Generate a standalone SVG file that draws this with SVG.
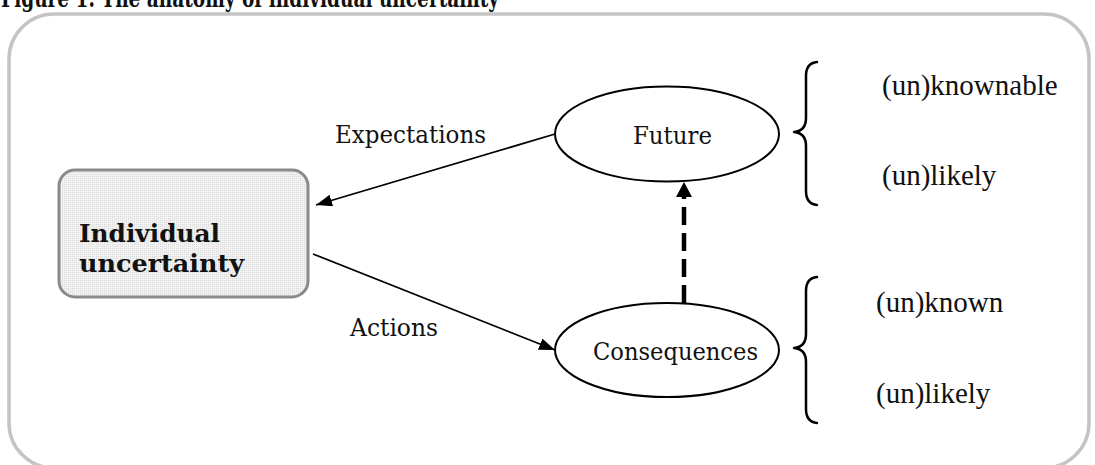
<svg xmlns="http://www.w3.org/2000/svg" width="1095" height="465" viewBox="0 0 1095 465">
<style>
.serif{font-family:"DejaVu Serif","Liberation Serif",serif;fill:#111}
.times{font-family:"Liberation Serif","Times New Roman",serif;font-size:29px;fill:#111}
.lbl{font-size:24px}
.conn{stroke:#000;stroke-width:1.8;fill:none}
.ell{fill:#fff;stroke:#000;stroke-width:2}
.brace{fill:none;stroke:#000;stroke-width:2.5;stroke-linecap:round;stroke-linejoin:round}
</style>
<defs>
<pattern id="dots" width="2" height="2" patternUnits="userSpaceOnUse">
<rect width="2" height="2" fill="#f2f2f2"/>
<rect width="1" height="1" fill="#dadada"/>
</pattern>
<marker id="ah" markerUnits="userSpaceOnUse" markerWidth="17" markerHeight="13" refX="16" refY="6" orient="auto">
<path d="M0,0 L16,6 L0,12 z" fill="#000"/>
</marker>
<marker id="ahd" markerUnits="userSpaceOnUse" markerWidth="16" markerHeight="17" refX="0" refY="8" orient="auto">
<path d="M0,0 L15,8 L0,16 z" fill="#000"/>
</marker>
</defs>
<rect width="1095" height="465" fill="#fff"/>
<text class="serif" x="1" y="7" font-size="26" font-weight="bold" textLength="498" lengthAdjust="spacingAndGlyphs">Figure 1. The anatomy of individual uncertainty</text>
<rect x="9" y="14" width="1080" height="454" rx="45" ry="45" fill="none" stroke="#c4c4c4" stroke-width="3.5"/>
<g id="connectors">
<line class="conn" x1="555" y1="134" x2="316" y2="205" marker-end="url(#ah)"/>
<line class="conn" x1="313" y1="254" x2="555" y2="350" marker-end="url(#ah)"/>
<line x1="684" y1="303" x2="684" y2="197" stroke="#000" stroke-width="4.5" stroke-dasharray="18 8" marker-end="url(#ahd)"/>
</g>
<g id="node-individual">
<rect x="59" y="170" width="249" height="127" rx="16" ry="16" fill="url(#dots)" stroke="#8a8a8a" stroke-width="3"/>
<text class="serif" x="79" y="242" font-size="25" font-weight="bold" textLength="141" lengthAdjust="spacingAndGlyphs">Individual</text>
<text class="serif" x="79" y="272" font-size="25" font-weight="bold" textLength="165" lengthAdjust="spacingAndGlyphs">uncertainty</text>
</g>
<g id="node-future">
<ellipse class="ell" cx="667" cy="134" rx="112" ry="47.5"/>
<text class="serif lbl" x="633" y="144" textLength="79" lengthAdjust="spacingAndGlyphs">Future</text>
</g>
<g id="node-consequences">
<ellipse class="ell" cx="667" cy="350" rx="112" ry="47"/>
<text class="serif lbl" x="593" y="360" textLength="165" lengthAdjust="spacingAndGlyphs">Consequences</text>
</g>
<g id="label-expectations">
<text class="serif lbl" x="335" y="143" textLength="151" lengthAdjust="spacingAndGlyphs">Expectations</text>
</g>
<g id="label-actions">
<text class="serif lbl" x="350" y="336" textLength="88" lengthAdjust="spacingAndGlyphs">Actions</text>
</g>
<g id="brace-future">
<path class="brace" d="M817,62 Q806,63 806,76 L806,118 Q806,131 794,132 Q806,133 806,146 L806,191 Q806,204 817,205"/>
<text class="times" x="882" y="95">(un)knownable</text>
<text class="times" x="882" y="185">(un)likely</text>
</g>
<g id="brace-consequences">
<path class="brace" d="M817,277 Q806,278 806,291 L806,334 Q806,347 794,348 Q806,349 806,362 L806,409 Q806,422 817,423"/>
<text class="times" x="876" y="312">(un)known</text>
<text class="times" x="876" y="403">(un)likely</text>
</g>
</svg>
